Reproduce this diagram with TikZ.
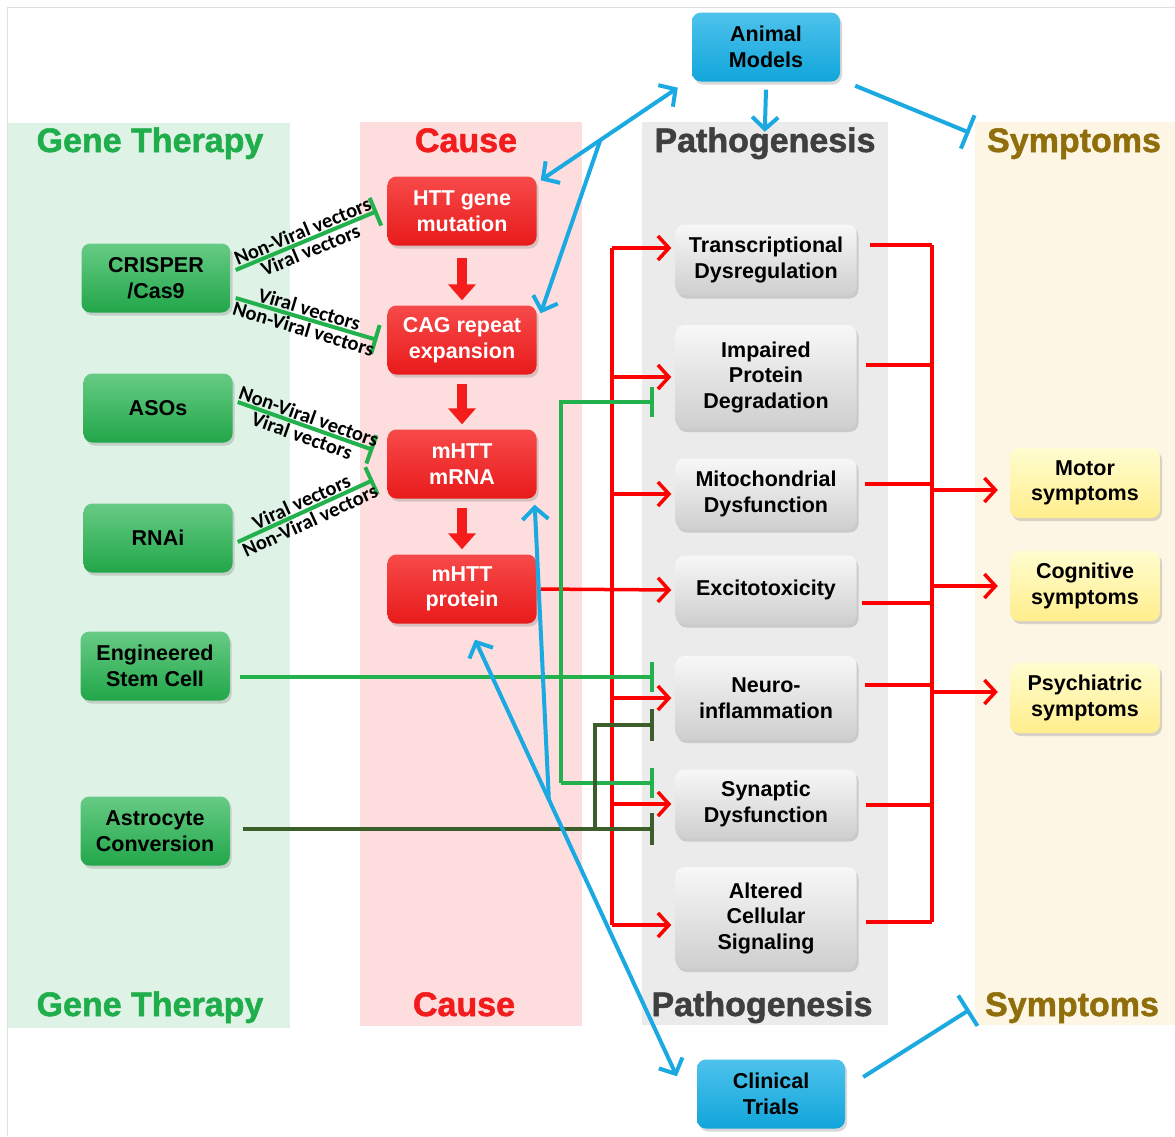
\documentclass[tikz,border=0pt]{standalone}
\usepackage{fontspec}
\setmainfont{Liberation Sans}
\newfontfamily\headfont[FakeBold=1.5]{Liberation Sans}
\newfontfamily\vecfont{Carlito}
\usetikzlibrary{arrows.meta,calc,shadows,positioning}

\definecolor{therapybg}{HTML}{DEF2E6}
\definecolor{causebg}{HTML}{FDDDDD}
\definecolor{pathobg}{HTML}{EBEBEB}
\definecolor{symptbg}{HTML}{FDF6E4}
\definecolor{therapytxt}{HTML}{1FAE4B}
\definecolor{causetxt}{HTML}{F21C1C}
\definecolor{pathotxt}{HTML}{3F3F3F}
\definecolor{symptxt}{HTML}{8F6E0B}
\definecolor{therapyfill}{HTML}{25B550}
\definecolor{causefill}{HTML}{F51C1C}
\definecolor{modelfill}{HTML}{12AEE6}
\definecolor{greenline}{HTML}{22B14C}
\definecolor{astroline}{HTML}{3B5E2B}
\definecolor{blueline}{HTML}{1BA9E2}

\tikzset{
  heading/.style={anchor=base, font=\headfont\bfseries\fontsize{34}{36}\selectfont},
  box/.style={rounded corners=9pt, align=center, inner sep=2pt,
    font=\bfseries\fontsize{21.5}{25.5}\selectfont,
    drop shadow={opacity=0.3, shadow xshift=2pt, shadow yshift=-3pt}},
  therapybox/.style={box, minimum width=149pt, minimum height=69pt,
    top color=therapyfill!70!white, bottom color=therapyfill!92!black},
  causebox/.style={box, minimum width=149pt, minimum height=69pt, text=white,
    top color=causefill!80!white, bottom color=causefill!95!black},
  pathobox/.style={box, minimum width=181pt,
    top color=gray!6, bottom color=gray!38},
  symptbox/.style={box, minimum width=150pt, minimum height=70pt,
    top color=symptbg!60!yellow!40!white, bottom color=orange!30!yellow!45!white},
  modelbox/.style={box, minimum width=148pt, minimum height=69pt,
    top color=modelfill!75!white, bottom color=modelfill!95!black},
  vectee/.style={greenline, line width=4pt, -{Bar[width=30pt]}},
  astrotee/.style={astroline, line width=4pt, -{Bar[width=32pt]}},
  vlabel/.style={sloped, midway, inner sep=1pt, text=black,
    font=\vecfont\bfseries\fontsize{20.5}{21}\selectfont},
  causearrow/.style={causefill, line width=10pt, -{Triangle[width=27pt,length=16pt]}},
  redline/.style={red, line width=3.5pt},
  redarrow/.style={red, line width=3.5pt, -{Straight Barb[length=11pt,width=24pt]}},
  bluearrow/.style={blueline, line width=4pt, -{Straight Barb[length=12pt,width=26pt]}},
  bluedouble/.style={blueline, line width=4pt, {Straight Barb[length=12pt,width=26pt]}-{Straight Barb[length=12pt,width=26pt]}},
  bluetee/.style={blueline, line width=4pt, -{Bar[width=36pt]}}
}

\begin{document}
\begin{tikzpicture}[x=1pt,y=-1pt]
\pgfmathsetmacro{\xtherapy}{156}%
\pgfmathsetmacro{\xcause}{462}%
\pgfmathsetmacro{\xpatho}{766}%
\pgfmathsetmacro{\xsympt}{1085}%
\pgfmathsetmacro{\xbus}{612}%
\pgfmathsetmacro{\xbracket}{932}%
\pgfmathsetmacro{\ytop}{152}%
\pgfmathsetmacro{\ybot}{1016}%

    \useasboundingbox (0,0) rectangle (1175,1136);
    \fill[white] (0,0) rectangle (1175,1136);
    \draw[gray!25, line width=1pt] (7,1136) -- (7,7) -- (1175,7);

    %colonnes
    \fill[therapybg] (8,123) rectangle (290,1028);
    \fill[causebg] (360,122) rectangle (582,1026);
    \fill[pathobg] (642,122) rectangle (888,1025);
    \fill[symptbg] (975,122) rectangle (1175,1025);

    %titres
    \node[heading, text=therapytxt] (gtTop) at (150,\ytop) {Gene Therapy};
    \node[heading, text=therapytxt] (gtBot) at (150,\ybot) {Gene Therapy};
    \node[heading, text=causetxt] (caTop) at (466,\ytop) {Cause};
    \node[heading, text=causetxt] (caBot) at (464,\ybot) {Cause};
    \node[heading, text=pathotxt] (ptTop) at (765,\ytop) {Pathogenesis};
    \node[heading, text=pathotxt] (ptBot) at (762,\ybot) {Pathogenesis};
    \node[heading, text=symptxt] (stTop) at (1074,\ytop) {Symptoms};
    \node[heading, text=symptxt] (stBot) at (1072,\ybot) {Symptoms};

    %therapies
    \node[therapybox] (crisper) at (\xtherapy,278) {CRISPER\\/Cas9};
    \node[therapybox] (asos) at (158,408) {ASOs};
    \node[therapybox] (rnai) at (158,538) {RNAi};
    \node[therapybox] (stem) at (155,666) {Engineered\\Stem Cell};
    \node[therapybox] (astro) at (155,831) {Astrocyte\\Conversion};

    %cause
    \node[causebox] (htt) at (\xcause,211) {HTT gene\\mutation};
    \node[causebox] (cag) at (\xcause,340) {CAG repeat\\expansion};
    \node[causebox] (mrna) at (\xcause,464) {mHTT\\mRNA};
    \node[causebox] (protein) at (\xcause,589) {mHTT\\protein};

    %pathogenese
    \node[pathobox, minimum height=71pt] (transc) at (\xpatho,260) {Transcriptional\\Dysregulation};
    \node[pathobox, minimum height=104pt] (degrad) at (\xpatho,377) {Impaired\\Protein\\Degradation};
    \node[pathobox, minimum height=71pt] (mito) at (\xpatho,494) {Mitochondrial\\Dysfunction};
    \node[pathobox, minimum height=69pt] (excito) at (\xpatho,590) {Excitotoxicity};
    \node[pathobox, minimum height=84pt] (neuro) at (\xpatho,698) {Neuro-\\inflammation};
    \node[pathobox, minimum height=69pt] (synap) at (\xpatho,804) {Synaptic\\Dysfunction};
    \node[pathobox, minimum height=102pt] (signal) at (\xpatho,918) {Altered\\Cellular\\Signaling};

    %symptomes
    \node[symptbox] (motor) at (\xsympt,483) {Motor\\symptoms};
    \node[symptbox] (cognit) at (\xsympt,586) {Cognitive\\symptoms};
    \node[symptbox] (psych) at (\xsympt,698) {Psychiatric\\symptoms};

    %modeles
    \node[modelbox] (animal) at (766,47) {Animal\\Models};
    \node[modelbox] (clinic) at (771,1094) {Clinical\\Trials};

    %vecteurs
    \draw[vectee] ($(crisper.east)+(5,-8)$) -- ($(htt.west)+(-10,0)$)
        node[vlabel, above] {Non-Viral vectors} node[vlabel, below] {Viral vectors};
    \draw[vectee] ($(crisper.east)+(5,20)$) -- ($(cag.west)+(-10,0)$)
        node[vlabel, above] {Viral vectors} node[vlabel, below] {Non-Viral vectors};
    \draw[vectee] ($(asos.east)+(5,-6)$) -- ($(mrna.west)+(-14,-14)$)
        node[vlabel, above] {Non-Viral vectors} node[vlabel, below] {Viral vectors};
    \draw[vectee] ($(rnai.east)+(5,4)$) -- ($(mrna.west)+(-14,16)$)
        node[vlabel, above] {Viral vectors} node[vlabel, below] {Non-Viral vectors};

    %cascade
    \draw[causearrow, shorten <=12pt, shorten >=5pt] (htt.south) -- (cag.north);
    \draw[causearrow, shorten <=9pt, shorten >=5pt] (cag.south) -- (mrna.north);
    \draw[causearrow, shorten <=9pt, shorten >=5pt] (mrna.south) -- (protein.north);

    %bus rouge
    \coordinate (busTop) at (\xbus,248);
    \coordinate (busBot) at (\xbus,925);
    \draw[redline] (busTop) -- (busBot);
    \draw[redarrow, shorten >=4pt] (busTop) -- ([yshift=12pt]transc.west);
    \draw[redarrow, shorten >=4pt] (degrad.west -| busTop) -- (degrad.west);
    \draw[redarrow, shorten >=4pt] (mito.west -| busTop) -- (mito.west);
    \draw[redarrow, shorten <=4pt, shorten >=4pt] (protein.east) -- (excito.west);
    \draw[redarrow, shorten >=4pt] (neuro.west -| busTop) -- (neuro.west);
    \draw[redarrow, shorten >=4pt] (synap.west -| busTop) -- (synap.west);
    \draw[redarrow, shorten >=4pt] (busBot) -- ([yshift=-7pt]signal.west);

    %crochet vers symptomes
    \coordinate (brTop) at (\xbracket,245);
    \coordinate (brBot) at (\xbracket,922);
    \draw[redline] (brTop) -- (brBot);
    \draw[redline] ([xshift=13pt,yshift=15pt]transc.east) -- (brTop);
    \draw[redline] ([xshift=9pt,yshift=12pt]degrad.east) coordinate (brDeg) -- (brDeg -| brTop);
    \draw[redline] ([xshift=8pt,yshift=10pt]mito.east) coordinate (brMit) -- (brMit -| brTop);
    \draw[redline] ([xshift=5pt,yshift=-13pt]excito.east) coordinate (brExc) -- (brExc -| brTop);
    \draw[redline] ([xshift=8pt,yshift=13pt]neuro.east) coordinate (brNeu) -- (brNeu -| brTop);
    \draw[redline] ([xshift=9pt,yshift=-1pt]synap.east) coordinate (brSyn) -- (brSyn -| brTop);
    \draw[redline] ([xshift=9pt,yshift=-4pt]signal.east) coordinate (brSig) -- (brSig -| brTop);
    \coordinate (motorIn) at ([xshift=-12pt,yshift=-7pt]motor.west);
    \coordinate (cognitIn) at ([xshift=-12pt]cognit.west);
    \coordinate (psychIn) at ([xshift=-12pt,yshift=6pt]psych.west);
    \draw[redarrow] (motorIn -| brTop) -- (motorIn);
    \draw[redarrow] (cognitIn -| brTop) -- (cognitIn);
    \draw[redarrow] (psychIn -| brTop) -- (psychIn);

    %cellules souches
    \coordinate (gTop) at (561,402);
    \coordinate (gBot) at (561,783);
    \draw[vectee] ($(stem.east)+(10,11)$) -- ($(neuro.west)+(-21,-21)$);
    \draw[vectee] (gBot) -- (gTop) -- ($(degrad.west)+(-21,25)$);
    \draw[vectee] (gBot) -- ($(synap.west)+(-21,-21)$);

    %astrocytes
    \draw[astrotee] ($(astro.east)+(13,-2)$) -- ($(synap.west)+(-21,25)$) coordinate[pos=0.855] (aJoin);
    \draw[astrotee] (aJoin) |- ($(neuro.west)+(-21,27)$);

    %modeles animaux
    \coordinate (amLeft) at ($(animal.south west)+(-14,6)$);
    \draw[bluedouble] (amLeft) -- ($(htt.north east)+(4,4)$) coordinate[pos=0.565] (amFork);
    \draw[bluearrow] (amFork) -- ($(cag.north east)+(4,8)$);
    \draw[bluearrow, shorten >=-8pt] ([yshift=-8pt]animal.south) -- (ptTop.north);
    \draw[bluetee] ($(animal.south east)+(15,4)$) -- ($(stTop.north west)+(-14,8)$);

    %essais cliniques
    \coordinate (ctLeft) at ($(clinic.north west)+(-20,17)$);
    \draw[bluedouble] (ctLeft) -- ($(protein.south)+(13,16)$) coordinate[pos=0.634] (ctFork);
    \draw[bluearrow] (ctFork) -- ($(mrna.south east)+(-2,6)$);
    \draw[bluetee] ($(clinic.east)+(18,-17)$) -- ($(stBot.west)+(-12,2)$);

\end{tikzpicture}
\end{document}
